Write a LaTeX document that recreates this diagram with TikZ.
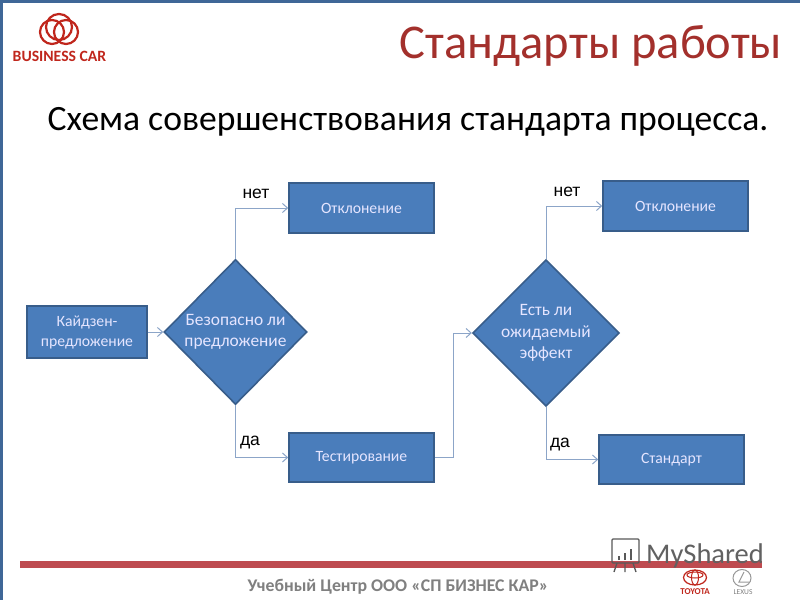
\documentclass[tikz,border=0pt]{standalone}
\usepackage{fontspec}
\setmainfont{Carlito}
\usetikzlibrary{shapes.geometric,arrows.meta}
\definecolor{boxblue}{HTML}{4A7DBB}
\definecolor{boxline}{HTML}{385D8A}
\definecolor{linkblue}{HTML}{8CA5C8}
\definecolor{titlered}{HTML}{A3302C}
\definecolor{barred}{HTML}{BE4B50}
\definecolor{frameblue}{HTML}{3F6797}
\definecolor{logored}{HTML}{C0261C}
\tikzstyle{stepbox} = [draw=boxline, fill=boxblue, line width=1.6pt, text=white!90!blue, font={\fontsize{15.7}{20}\selectfont}, minimum height=49pt, align=center, inner sep=0pt]
\tikzstyle{wide} = [stepbox, minimum width=145pt]
\tikzstyle{lowered} = [execute at begin node={\rule{0pt}{17pt}}]
\tikzstyle{choice} = [stepbox, lowered, diamond, minimum width=143pt, minimum height=145pt, aspect=1, font={\fontsize{17.4}{21.5}\selectfont}]
\tikzstyle{link} = [draw=linkblue, line width=1pt, -{Straight Barb[length=5pt,width=9pt]}]
\tikzstyle{answer} = [font={\fontsize{17.5}{20}\selectfont\fontspec{Liberation Sans}}, text=black, inner sep=0pt]
\begin{document}
\begin{tikzpicture}[x=1pt,y=-1pt]
        \useasboundingbox (0,0) rectangle (800,600);
        \fill[white] (0,0) rectangle (800,600);
        \fill[frameblue] (0,0) rectangle (800,3);
        \fill[frameblue] (0,0) rectangle (3,600);
        % header
        \foreach \cx/\cy/\r in {52/32/12,66/32/12,59/27/13}
          \draw[logored, line width=2.2pt] (\cx,\cy) circle (\r);
        \node[font={\fontsize{15.7}{16}\selectfont\bfseries}, text=logored, inner sep=0pt](brand) at (59.5,56){BUSINESS CAR};
        \node[font={\fontsize{48.5}{50}\selectfont}, text=titlered, inner sep=0pt](title) at (591,46){Стандарты работы};
        \node[font={\fontsize{35.6}{40}\selectfont}, text=black, inner sep=0pt](subtitle) at (408,122){Схема совершенствования стандарта процесса.};
        % flow
        \node[stepbox, lowered, minimum width=120pt, minimum height=52pt](kaizen) at (87,332){Кайдзен-\\предложение};
        \node[choice](safe) at (235.5,332){Безопасно ли\\предложение};
        \node[wide, minimum height=50pt](reject1) at (361.5,208){Отклонение};
        \node[wide](trial) at (361.5,457.5){Тестирование};
        \node[choice](effect) at (546,333){Есть ли\\ожидаемый\\эффект};
        \node[wide, minimum height=50pt](reject2) at (675.5,206){Отклонение};
        \node[wide](norm) at (671.5,459.5){Стандарт};
        \draw[link](kaizen)--(safe);
        \draw[link](safe.north)|-(reject1);
        \draw[link](safe.south)|-(trial);
        \draw[link](trial.east)--++(19,0)|-(effect.west);
        \draw[link](effect.north)|-(reject2);
        \draw[link](effect.south)|-(norm);
        \node[answer](no1) at (256,194){нет};
        \node[answer](yes1) at (250,443){да};
        \node[answer](no2) at (567,192){нет};
        \node[answer](yes2) at (560,445){да};
        % footer
        \fill[barred] (20,561) rectangle (762,567.5);
        \node[font={\fontsize{17.8}{20}\selectfont\bfseries}, text=black!50, inner sep=0pt](school) at (398,587){Учебный Центр ООО «СП БИЗНЕС КАР»};
        \node[font={\fontsize{28.5}{32}\selectfont}, text=black!62, inner sep=0pt](share) at (705,556){MyShared};
        \draw[black!65, line width=1.3pt, rounded corners=1pt] (612,539) rectangle (639,563);
        \draw[black!65, line width=1.3pt] (617,563)--(614,572) (625,563)--(625,572) (633,563)--(636,572);
        \foreach \bx/\bh in {619/4,625/7,631/11}
          \draw[black!65, line width=2.5pt] (\bx,560)--(\bx,560-\bh);
        \draw[logored, line width=1.2pt] (695,577.5) ellipse (11.5 and 7.5);
        \draw[logored, line width=1pt] (695,577.5) ellipse (3.5 and 7.5);
        \draw[logored, line width=1pt] (695,575) ellipse (8 and 3);
        \node[font={\fontsize{9}{10}\selectfont\bfseries}, text=logored, inner sep=0pt](toyota) at (695,592){TOYOTA};
        \draw[black!40, line width=1pt] (742,578) ellipse (9 and 8.5);
        \draw[black!40, line width=1pt] (744,572)--(739,582)--(749,582);
        \node[font={\fontsize{7.5}{9}\selectfont}, text=black!50, inner sep=0pt](lexus) at (743,592){LEXUS};
      \end{tikzpicture}
\end{document}
